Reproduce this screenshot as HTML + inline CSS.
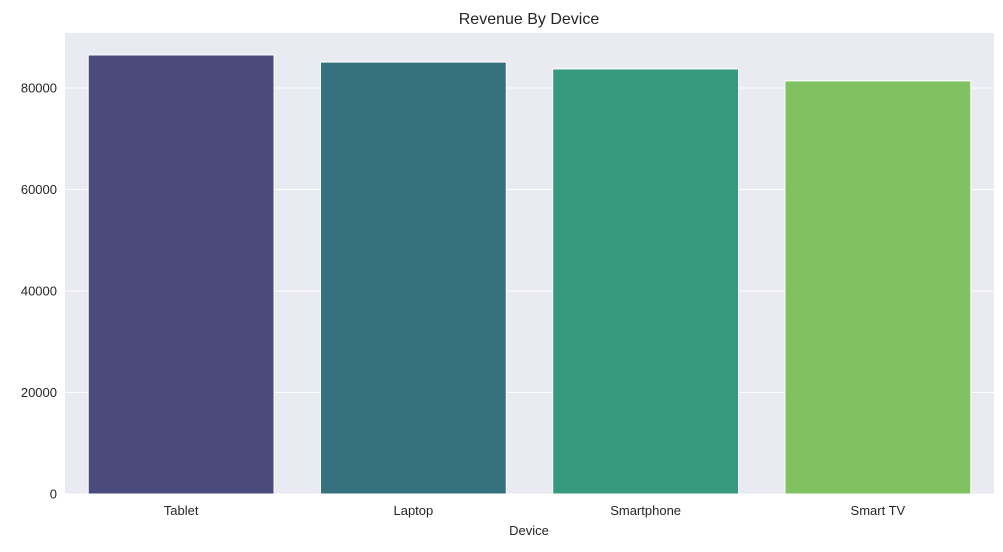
<!DOCTYPE html>
<html><head><meta charset="utf-8"><style>
body{margin:0;background:#fff;}
svg text{font-family:"Liberation Sans","DejaVu Sans",sans-serif;fill:#262626;}
</style></head><body>
<svg id="chart" width="1003" height="547" viewBox="0 0 1003 547">
<rect x="65" y="33" width="929" height="461" fill="#eaeaf2"/>
<g id="grid"></g><g id="bars"></g><g id="xt"></g><g id="yt"></g>
<text x="529" y="24" text-anchor="middle" font-size="16">Revenue By Device</text>
<text x="529" y="535" text-anchor="middle" font-size="13">Device</text>
</svg>
<script>
const categories=["Tablet","Laptop","Smartphone","Smart TV"];
const revenue=[86500,85100,83750,81400];
const colors=["#4a4b7c","#367180","#36997d","#80c261"];
const yTicks=[0,20000,40000,60000,80000];
const L=65,R=994,T=33,B=494,yMax=90833;
const ns="http://www.w3.org/2000/svg";
function y(v){return B-(v/yMax)*(B-T);}
const band=(R-L)/categories.length;
function xc(i){return L+band*(i+0.5);}
function mk(t,a,p){const e=document.createElementNS(ns,t);for(const k in a)e.setAttribute(k,a[k]);document.getElementById(p).appendChild(e);return e;}
yTicks.forEach(v=>{
 const g=mk("line",{x1:L,x2:R,y1:y(v),y2:y(v),stroke:"#fff","stroke-width":1},"grid");
 
 
 const t=mk("text",{x:L-8,y:y(v)+4.5,"text-anchor":"end","font-size":13},"yt");
 t.textContent=v;
 
 
});
categories.forEach((c,i)=>{
 const w=band*0.8;
 const r=mk("rect",{x:xc(i)-w/2,y:y(revenue[i]),width:w,height:B-y(revenue[i]),fill:colors[i],stroke:"#fff","stroke-width":1},"bars");
 
 
 const t=mk("text",{x:xc(i),y:B+21,"text-anchor":"middle","font-size":13},"xt");
 t.textContent=c;
 
 
});
</script>
</body></html>
